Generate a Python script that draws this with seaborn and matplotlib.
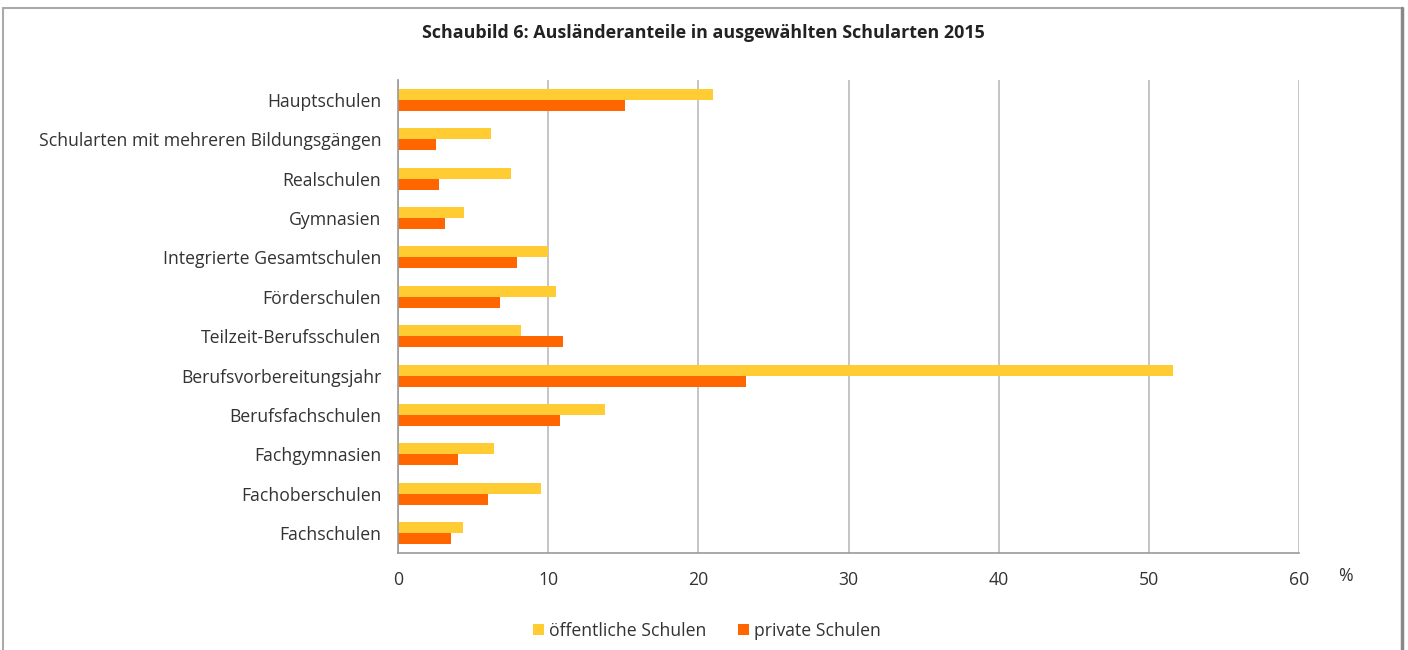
import matplotlib
matplotlib.use("Agg")
import matplotlib.pyplot as plt
from matplotlib.lines import Line2D
from matplotlib.patches import Patch
import seaborn as sns
import pandas as pd
import numpy as np

categories = [
    "Hauptschulen",
    "Schularten mit mehreren Bildungsgängen",
    "Realschulen",
    "Gymnasien",
    "Integrierte Gesamtschulen",
    "Förderschulen",
    "Teilzeit-Berufsschulen",
    "Berufsvorbereitungsjahr",
    "Berufsfachschulen",
    "Fachgymnasien",
    "Fachoberschulen",
    "Fachschulen",
]
oeffentlich = [21.0, 6.2, 7.5, 4.4, 10.0, 10.5, 8.2, 51.6, 13.8, 6.4, 9.5, 4.3]
privat = [15.1, 2.5, 2.7, 3.1, 7.9, 6.8, 11.0, 23.2, 10.8, 4.0, 6.0, 3.5]
series_names = ["öffentliche Schulen", "private Schulen"]
x_ticks = [0, 10, 20, 30, 40, 50, 60]
title = "Schaubild 6: Ausländeranteile in ausgewählten Schularten 2015"

colors = ["#FFCC33", "#FF6600"]

df = pd.DataFrame({
    "Schulart": categories * 2,
    "Anteil": oeffentlich + privat,
    "Träger": [series_names[0]] * len(categories) + [series_names[1]] * len(categories),
})

sns.set_theme(style="white")
plt.rcParams["font.family"] = ["Open Sans", "DejaVu Sans"]

FS = 12.7

fig = plt.figure(figsize=(14.08, 6.5), dpi=100)
ax = fig.add_axes([398 / 1408, 1 - 553 / 650, (1299 - 398) / 1408, (553 - 80) / 650])

sns.barplot(data=df, y="Schulart", x="Anteil", hue="Träger", order=categories,
            hue_order=series_names, palette=colors, orient="h", width=0.56,
            ax=ax, legend=False, saturation=1, linewidth=0)

ax.set_xlim(0, 60)
ax.set_ylim(len(categories) - 0.5, -0.5)
ax.set_xticks(x_ticks)
ax.set_xticklabels([str(t) for t in x_ticks], fontsize=FS, color="#333333")
ax.set_yticks(range(len(categories)))
ax.set_yticklabels(categories, fontsize=FS, color="#333333")
ax.set_yticks(np.arange(-0.5, len(categories), 1), minor=True)
ax.tick_params(axis="y", which="major", length=0, pad=12)
ax.tick_params(axis="y", which="minor", length=6, width=1.2, color="#999999", direction="out")
ax.tick_params(axis="x", which="major", length=0, pad=13)
ax.set_xlabel("")
ax.set_ylabel("")
ax.xaxis.grid(True, color="#BBBBBB", linewidth=1.2)
ax.set_axisbelow(True)
for side in ["top", "right"]:
    ax.spines[side].set_visible(False)
for side in ["left", "bottom"]:
    ax.spines[side].set_color("#999999")
    ax.spines[side].set_linewidth(1.2)

fig.text(1345 / 1408, 1 - 576 / 650, "%", fontsize=FS, color="#333333", ha="center", va="center")
fig.text(703 / 1408, 1 - 33 / 650, title, fontsize=12.9, fontweight="bold",
         color="#222222", ha="center", va="center")

handles = [Patch(facecolor=c, edgecolor="none") for c in colors]
fig.legend(handles, series_names, loc="center", bbox_to_anchor=(707 / 1408, 1 - 631 / 650),
           ncol=2, frameon=False, fontsize=FS, handlelength=0.6, handleheight=0.6,
           handletextpad=0.3, columnspacing=1.8, labelcolor="#333333")

# outer frame
fig.add_artist(Line2D([2.5 / 1408, 2.5 / 1408], [0, 1 - 8 / 650], transform=fig.transFigure, color="#AAAAAA", lw=1.5))
fig.add_artist(Line2D([2.5 / 1408, 1402 / 1408], [1 - 8 / 650, 1 - 8 / 650], transform=fig.transFigure, color="#AAAAAA", lw=1.5))
fig.add_artist(Line2D([1402 / 1408, 1402 / 1408], [0, 1 - 8 / 650], transform=fig.transFigure, color="#888888", lw=2.5))

fig.savefig("out.png", dpi=100, facecolor="white")
